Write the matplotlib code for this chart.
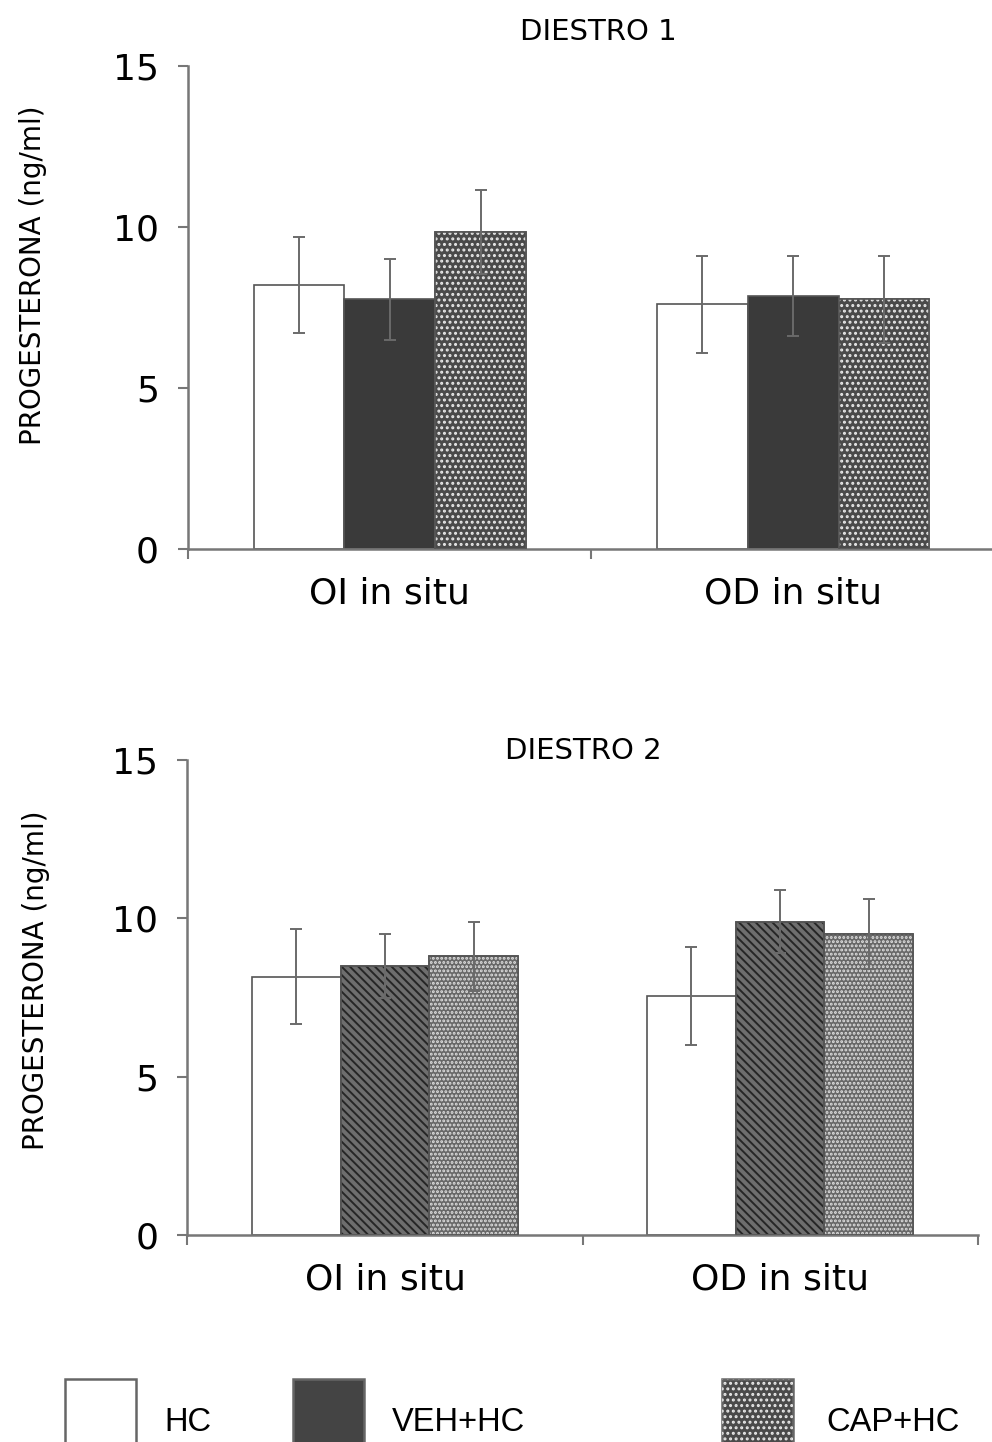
import numpy as np
import matplotlib
matplotlib.use('Agg')
import matplotlib.pyplot as plt
from matplotlib.patches import Rectangle

# progesterone (ng/ml), mean and error per treatment, for each ovary
sites = ['OI in situ', 'OD in situ']
groups = ['HC', 'VEH+HC', 'CAP+HC']

d1_mean = {'HC': [8.2, 7.6], 'VEH+HC': [7.75, 7.85], 'CAP+HC': [9.85, 7.75]}
d1_err = {'HC': [1.5, 1.5], 'VEH+HC': [1.25, 1.25], 'CAP+HC': [1.3, 1.35]}

d2_mean = {'HC': [8.15, 7.55], 'VEH+HC': [8.5, 9.9], 'CAP+HC': [8.8, 9.5]}
d2_err = {'HC': [1.5, 1.55], 'VEH+HC': [1.0, 1.0], 'CAP+HC': [1.1, 1.1]}

yticks = [0, 5, 10, 15]

plt.rcParams['font.family'] = 'DejaVu Sans'
plt.rcParams['hatch.linewidth'] = 1.4

fig = plt.figure(figsize=(9.92, 14.42), dpi=100)

axis_col = '#777777'
err_col = '#6a6a6a'
w = 0.225
x = np.arange(len(sites))

# style per group for each panel: face colour, hatch, hatch colour
style_d1 = {'HC': ('white', None, None),
            'VEH+HC': ('#3a3a3a', None, None),
            'CAP+HC': ('#4a4a4a', '...', '#e8e8e8')}
style_d2 = {'HC': ('white', None, None),
            'VEH+HC': ('#6e6e6e', '\\\\\\\\', '#262626'),
            'CAP+HC': ('#686868', '....', '#e0e0e0')}


def panel(ax, means, errs, styles):
    for k, g in enumerate(groups):
        xs = x + (k - 1) * w
        face, hatch, hcol = styles[g]
        ax.bar(xs, means[g], width=w, color=face, edgecolor='#555555',
               linewidth=1.2, zorder=2)
        if hatch:
            ax.bar(xs, means[g], width=w, color='none', edgecolor=hcol,
                   hatch=hatch, linewidth=0, zorder=2.5)
            ax.bar(xs, means[g], width=w, color='none', edgecolor='#555555',
                   linewidth=1.2, zorder=2.6)
        ax.errorbar(xs, means[g], yerr=errs[g], fmt='none', ecolor=err_col,
                    elinewidth=1.4, capsize=4.5, capthick=1.4, zorder=3)

    ax.set_xlim(-0.5, 1.5)
    ax.set_ylim(0, 15)
    ax.set_yticks(yticks)
    ax.set_xticks(x)
    ax.set_xticklabels(sites)
    ax.set_xticks([-0.5, 0.5, 1.5], minor=True)
    ax.tick_params(axis='x', which='major', length=0, pad=20, labelsize=26)
    ax.tick_params(axis='x', which='minor', length=7, width=1.5, color=axis_col,
                   direction='out')
    ax.tick_params(axis='y', length=7, width=1.5, color=axis_col, pad=14,
                   labelsize=26)
    for s in ['top', 'right']:
        ax.spines[s].set_visible(False)
    for s in ['left', 'bottom']:
        ax.spines[s].set_color(axis_col)
        ax.spines[s].set_linewidth(1.8)
    ax.patch.set_alpha(0)


ax1 = fig.add_axes([0.1895, 0.6193, 0.8135, 0.3350])
panel(ax1, d1_mean, d1_err, style_d1)
ax2 = fig.add_axes([0.189, 0.14355, 0.7964, 0.3294])
panel(ax2, d2_mean, d2_err, style_d2)

fig.text(0.603, 0.978, 'DIESTRO 1', ha='center', va='center', fontsize=21)
fig.text(0.588, 0.479, 'DIESTRO 2', ha='center', va='center', fontsize=21)

ylab = 'PROGESTERONA (ng/ml)'
fig.text(0.033, 0.809, ylab, rotation=90, ha='center', va='center', fontsize=20)
fig.text(0.036, 0.320, ylab, rotation=90, ha='center', va='center', fontsize=20)

# legend keys along the bottom edge
leg_style = {'HC': ('white', None, None),
             'VEH+HC': ('#444444', None, None),
             'CAP+HC': ('#4a4a4a', '...', '#e8e8e8')}
key_x = [0.0655, 0.2955, 0.728]
text_x = [0.166, 0.395, 0.833]
for g, kx, tx in zip(groups, key_x, text_x):
    face, hatch, hcol = leg_style[g]
    fig.patches.append(Rectangle((kx, -0.01), 0.0715, 0.054, facecolor=face,
                                 edgecolor='#666666', linewidth=1.8,
                                 transform=fig.transFigure, figure=fig))
    if hatch:
        fig.patches.append(Rectangle((kx, -0.01), 0.0715, 0.054,
                                     facecolor='none', edgecolor=hcol,
                                     hatch=hatch, linewidth=0,
                                     transform=fig.transFigure, figure=fig))
    fig.text(tx, 0.003, g, ha='left', va='bottom', fontsize=23.5,
             family='Liberation Sans')

fig.savefig('out.png', dpi=100)
